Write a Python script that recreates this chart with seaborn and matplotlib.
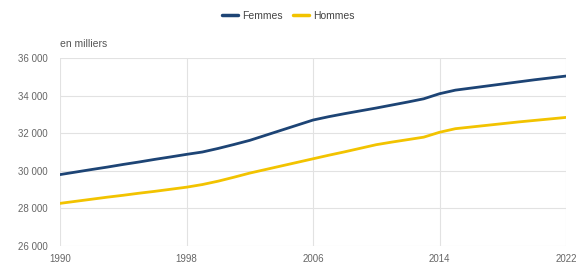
import numpy as np
import pandas as pd
import seaborn as sns
import matplotlib.pyplot as plt

# Population by sex, in thousands
years = list(range(1990, 2023))
femmes = [29800, 29935, 30070, 30200, 30340, 30470, 30610, 30740, 30875, 31000,
          31190, 31400, 31620, 31890, 32160, 32430, 32700, 32880, 33040, 33190,
          33340, 33500, 33660, 33830, 34100, 34290, 34400, 34510, 34620, 34730,
          34840, 34940, 35040]
hommes = [28270, 28380, 28490, 28600, 28700, 28810, 28910, 29020, 29130, 29270,
          29450, 29660, 29880, 30070, 30260, 30450, 30640, 30830, 31010, 31200,
          31390, 31530, 31660, 31790, 32050, 32240, 32330, 32420, 32510, 32600,
          32680, 32760, 32840]
x_ticks = [1990, 1998, 2006, 2014, 2022]
y_ticks = [26000, 28000, 30000, 32000, 34000, 36000]

df = pd.DataFrame({
    "annee": years * 2,
    "valeur": femmes + hommes,
    "sexe": ["Femmes"] * len(years) + ["Hommes"] * len(years),
})

sns.set_style("white")
plt.rcParams['font.family'] = ['Liberation Sans', 'DejaVu Sans']

fig = plt.figure(figsize=(5.77, 2.66), dpi=100)
ax = fig.add_axes([0.104, 0.075, 0.877, 0.707])

sns.lineplot(data=df, x="annee", y="valeur", hue="sexe",
             palette={"Femmes": "#1d4475", "Hommes": "#f2c300"},
             linewidth=2.0, ax=ax, legend=False)

ax.set_xlim(1990, 2022)
ax.set_ylim(26000, 36000)
ax.set_xticks(x_ticks)
ax.set_yticks(y_ticks)
ax.set_yticklabels([f"{v:,}".replace(",", " ") for v in y_ticks])
ax.tick_params(axis="both", length=0, labelsize=7, colors="#666666")
ax.tick_params(axis="y", pad=9)
ax.tick_params(axis="x", pad=6)
ax.grid(True, color="#e2e2e2", linewidth=0.8)
for s in ax.spines.values():
    s.set_visible(False)
ax.set_xlabel("")
ax.set_ylabel("")

fig.text(0.104, 0.825, "en milliers", fontsize=7.5, color="#555555")

handles = [plt.Line2D([], [], color="#1d4475", linewidth=2.5),
           plt.Line2D([], [], color="#f2c300", linewidth=2.5)]
fig.legend(handles, ["Femmes", "Hommes"], loc="center", bbox_to_anchor=(0.5, 0.94),
           ncol=2, frameon=False, fontsize=7.5, handlelength=1.5,
           handletextpad=0.4, columnspacing=1.0, labelcolor="#444444")

fig.savefig("out.png", dpi=100)
